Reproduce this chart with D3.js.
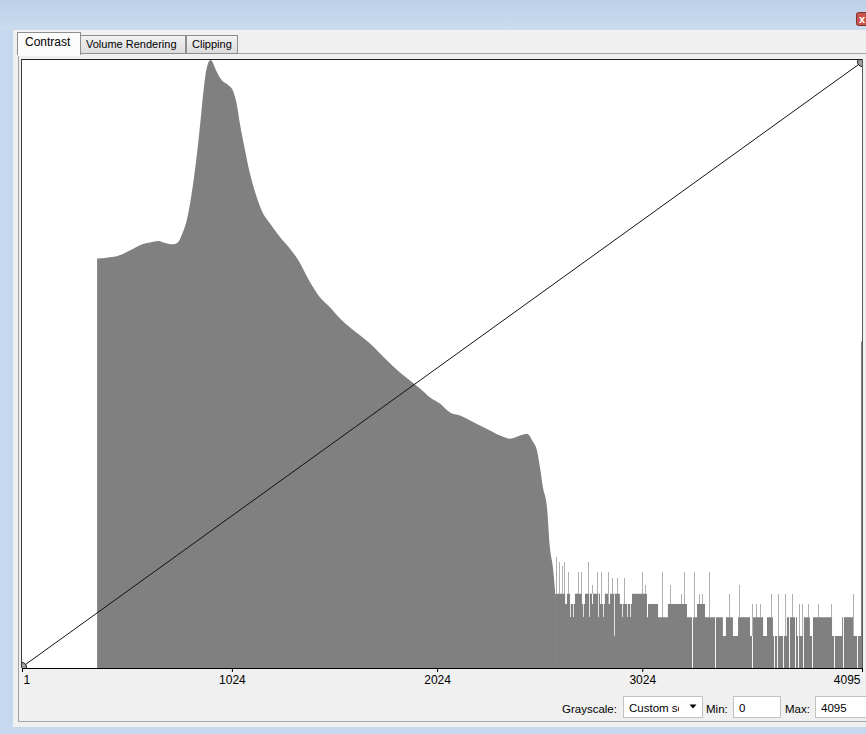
<!DOCTYPE html>
<html>
<head>
<meta charset="utf-8">
<script src="https://cdn.jsdelivr.net/npm/d3@7"></script>
<style>
  body { margin: 0; background: #c5d8ef; }
  svg { display: block; }
  text { font-family: "Liberation Sans", Arial, sans-serif; }
</style>
</head>
<body>
<div id="chart"></div>
<script>
// histogram body (gray value -> voxel count)
const bodyGray = [367, 414, 462, 495, 543, 584, 625, 665, 698, 738, 763, 779, 804, 828, 852, 868, 888, 901, 920,
  950, 974, 1006, 1031, 1047, 1063, 1088, 1112, 1137, 1169, 1210, 1258, 1307, 1348, 1405, 1453, 1502, 1551,
  1600, 1648, 1697, 1746, 1795, 1843, 1892, 1941, 1990, 2038, 2087, 2136, 2185, 2233, 2282, 2331, 2380, 2428,
  2462, 2491, 2511, 2526, 2540, 2560, 2574, 2589, 2599];
const bodyCount = [7060, 7210, 7420, 7860, 8760, 9560, 9990, 10330, 9910, 9630, 10120, 11690, 16190, 28880, 63890,
  122400, 291300, 434100, 520000, 403500, 337000, 302300, 261400, 203300, 131800, 73880, 44580, 29910, 20040,
  15080, 11270, 8760, 6800, 4220, 3050, 2460, 1930, 1590, 1340, 1120, 905, 728, 599, 503, 423, 348, 305, 251,
  235, 211, 189, 170, 152, 142, 152, 158, 133, 110, 75, 49, 31, 12.5, 7.7, 4.3];

// sparse tail: runs of equal count
const tailFrom = [2599, 2648, 2657, 2672, 2696, 2730, 2745, 2779, 2784, 2818, 2842, 2857, 2867, 2915, 2974, 3047,
  3052, 3101, 3149, 3242, 3291, 3330, 3417, 3432, 3466, 3491, 3549, 3564, 3613, 3632, 3661, 3729, 3778, 3809,
  3841, 3856, 3949, 3998, 4051, 4090];
const tailTo = [2648, 2657, 2672, 2696, 2730, 2745, 2779, 2784, 2818, 2842, 2857, 2867, 2915, 2974, 3047, 3052,
  3101, 3149, 3242, 3291, 3330, 3417, 3432, 3466, 3491, 3549, 3564, 3613, 3632, 3661, 3729, 3778, 3809, 3841,
  3856, 3949, 3998, 4051, 4090, 4095];
const tailCount = [4, 3, 4, 3, 4, 3, 4, 3, 4, 3, 4, 3, 4, 3, 4, 2, 3, 2, 3, 2, 3, 2, 1, 2, 1, 2, 1, 2, 1, 2, 1, 2,
  1, 2, 1, 2, 1, 2, 1, 1175];

// single bins that stick out of (or drop below) the runs
const binGray = [2604, 2620, 2631, 2644, 2660, 2712, 2725, 2761, 2777, 2802, 2823, 2859, 2875, 2903, 2937,
  3021, 3037, 3119, 3159, 3213, 3229, 3276, 3301, 3317, 3349, 3447, 3495, 3560, 3578, 3598, 3650, 3684, 3720,
  3752, 3790, 3801, 3833, 3882, 3944, 4053,
  2672, 2688, 2737, 2766, 2810, 2834, 2888, 2924, 2948, 2964,
  3268, 3378, 3557, 3665, 3679, 3711, 3741, 3768, 3784, 3809, 3853, 3960, 4001, 4069];
const binCount = [10, 9, 8, 9, 7, 7, 7, 9, 5, 7, 7, 7, 6, 6, 6,
  7, 5, 7, 5, 4, 7, 7, 4, 4, 7, 4, 5, 3, 3, 3, 4, 4, 4,
  4, 3, 3, 3, 3, 3, 4,
  2, 2, 2, 2, 2, 2, 1, 2, 2, 2,
  0, 0, 0, 0, 0, 0, 0, 0, 0, 0, 0, 0, 0, 0];

// transfer function (linear ramp)
const tfGray = [1, 4095];
const tfLevel = [0, 1];

const tickValues = [1, 1024, 2024, 3024, 4095];
const tabNames = ["Contrast", "Volume Rendering", "Clipping"];

const W = 866, H = 734;
const plotL = 22, plotR = 862, plotT = 60, plotB = 668;
const BAR = "#808080";

const svg = d3.select("#chart").append("svg").attr("width", W).attr("height", H);
const defs = svg.append("defs");

// window chrome
const g1 = defs.append("linearGradient").attr("id", "titlebar").attr("x2", 0).attr("y2", 1);
g1.append("stop").attr("offset", 0).attr("stop-color", "#bcd0e9");
g1.append("stop").attr("offset", 1).attr("stop-color", "#cbdcf0");
const g2 = defs.append("linearGradient").attr("id", "tabbg").attr("x2", 0).attr("y2", 1);
g2.append("stop").attr("offset", 0).attr("stop-color", "#f3f3f3");
g2.append("stop").attr("offset", 1).attr("stop-color", "#dcdcdc");

svg.append("rect").attr("width", W).attr("height", H).attr("fill", "#c5d8ef");
svg.append("rect").attr("width", W).attr("height", 31).attr("fill", "url(#titlebar)");
svg.append("rect").attr("x", 856.5).attr("y", 12.5).attr("width", 18).attr("height", 13).attr("rx", 2)
  .attr("fill", "#c9544b").attr("stroke", "#7d342f");
svg.append("text").attr("x", 859).attr("y", 23).attr("fill", "#fff").attr("font-size", 11)
  .attr("font-weight", "bold").text("x");

svg.append("rect").attr("x", 13).attr("y", 30).attr("width", W - 13).attr("height", 697).attr("fill", "#f0f0f0");
svg.append("rect").attr("x", 18.5).attr("y", 53.5).attr("width", W).attr("height", 668)
  .attr("fill", "#f0f0f0").attr("stroke", "#a3a3a3");

// tabs
const tabX = [17.5, 80.5, 186.5], tabW = [63, 105, 51];
tabNames.forEach((name, i) => {
  const active = i === 0;
  svg.append("rect").attr("x", tabX[i]).attr("y", active ? 32.5 : 35.5)
    .attr("width", tabW[i]).attr("height", active ? 22 : 18)
    .attr("fill", active ? "#fcfcfc" : "url(#tabbg)").attr("stroke", "#8e8e8e");
  svg.append("text").attr("x", tabX[i] + (active ? 7.5 : 5.5)).attr("y", active ? 46 : 48)
    .attr("font-size", active ? 12 : 11).attr("fill", "#000").text(name);
});
svg.append("rect").attr("x", 18).attr("y", 53).attr("width", 62).attr("height", 3).attr("fill", "#fcfcfc");

// plot area
svg.append("rect").attr("x", plotL).attr("y", plotT).attr("width", plotR - plotL).attr("height", plotB - plotT)
  .attr("fill", "#fff");
defs.append("clipPath").attr("id", "plotclip").append("rect")
  .attr("x", plotL).attr("y", plotT).attr("width", plotR - plotL + 1).attr("height", plotB - plotT);

const x = d3.scaleLinear().domain([1, 4095]).range([plotL, plotR]);
const y = d3.scaleSymlog().constant(1).domain([0, 520000]).range([plotB, plotT]);
const yTf = d3.scaleLinear().domain([0, 1]).range([plotB - 1, plotT + 2]);

const plot = svg.append("g").attr("clip-path", "url(#plotclip)");

const body = bodyGray.map((g, i) => ({ g, c: bodyCount[i] }));
plot.append("path").datum(body).attr("fill", BAR)
  .attr("d", d3.area().curve(d3.curveMonotoneX).x(d => x(d.g)).y0(y(0)).y1(d => y(d.c)));

const tail = tailFrom.map((g, i) => ({ g, c: tailCount[i] }));
tail.push({ g: tailTo[tailTo.length - 1], c: tailCount[tailCount.length - 1] });
plot.append("path").datum(tail).attr("fill", BAR)
  .attr("d", d3.area().curve(d3.curveStepAfter).x(d => x(d.g)).y0(y(0)).y1(d => y(d.c)));

function runAt(g) {
  const i = tailFrom.findIndex((f, k) => g >= f && g < tailTo[k]);
  return i < 0 ? 0 : tailCount[i];
}
plot.selectAll(".bin").data(binGray.map((g, i) => ({ g, c: binCount[i], r: runAt(g) })))
  .join("rect").attr("class", "bin")
  .attr("shape-rendering", "crispEdges")
  .attr("x", d => Math.round(x(d.g)))
  .attr("width", 1)
  .attr("y", d => y(Math.max(d.c, d.r)))
  .attr("height", d => Math.abs(y(d.c) - y(d.r)))
  .attr("fill", d => d.c > d.r ? "#b0b0b0" : (d.c === 0 ? "#f4f4f4" : "#e2e2e2"));

// transfer function line + handles
const tf = tfGray.map((g, i) => ({ g, v: tfLevel[i] }));
plot.append("path").datum(tf).attr("fill", "none").attr("stroke", "#111").attr("stroke-width", 1)
  .attr("d", d3.line().x(d => x(d.g)).y(d => yTf(d.v)));
plot.selectAll(".handle").data(tf).join("circle").attr("class", "handle")
  .attr("cx", d => x(d.g)).attr("cy", d => yTf(d.v)).attr("r", 4.5)
  .attr("fill", "#9c9c9c").attr("stroke", "#1a1a1a");

// frame
svg.append("line").attr("x1", plotL - 1).attr("x2", plotR + 1).attr("y1", plotT - 0.5).attr("y2", plotT - 0.5)
  .attr("stroke", "#1c1c1c");
svg.append("line").attr("x1", plotL - 0.5).attr("x2", plotL - 0.5).attr("y1", plotT - 1).attr("y2", plotB)
  .attr("stroke", "#3a3a3a");
svg.append("line").attr("x1", plotR + 0.5).attr("x2", plotR + 0.5).attr("y1", plotT - 1).attr("y2", plotB)
  .attr("stroke", "#5a5a5a");

// axis
const axis = svg.append("g").attr("transform", `translate(0,${plotB})`)
  .call(d3.axisBottom(x).tickValues(tickValues).tickSize(4).tickSizeOuter(0).tickFormat(d3.format("d")));
axis.select(".domain").attr("stroke", "#000");
axis.selectAll(".tick line").attr("stroke", "#000");
axis.selectAll(".tick text").attr("font-size", 12).attr("font-family", "Liberation Sans, Arial, sans-serif")
  .attr("fill", "#000");
axis.selectAll(".tick text").filter(d => d === tickValues[0]).attr("text-anchor", "start").attr("dx", 1);
axis.selectAll(".tick text").filter(d => d === tickValues[tickValues.length - 1]).attr("text-anchor", "end").attr("dx", -2);

// controls
const ctl = svg.append("g").attr("font-size", 11.5).attr("fill", "#000");
ctl.append("text").attr("x", 562).attr("y", 713).text("Grayscale:");
ctl.append("rect").attr("x", 623.5).attr("y", 696.5).attr("width", 79).attr("height", 21)
  .attr("fill", "#fff").attr("stroke", "#c2c2c2");
defs.append("clipPath").attr("id", "ddclip").append("rect").attr("x", 624).attr("y", 697).attr("width", 55).attr("height", 20);
ctl.append("text").attr("x", 629).attr("y", 712).attr("clip-path", "url(#ddclip)").text("Custom scale");
ctl.append("path").attr("d", "M689.5,704.5h7l-3.5,4z").attr("fill", "#000");
ctl.append("text").attr("x", 706).attr("y", 713).text("Min:");
ctl.append("rect").attr("x", 733.5).attr("y", 696.5).attr("width", 47).attr("height", 21)
  .attr("fill", "#fff").attr("stroke", "#c2c2c2");
ctl.append("text").attr("x", 739).attr("y", 712).text("0");
ctl.append("text").attr("x", 785).attr("y", 713).text("Max:");
ctl.append("rect").attr("x", 815.5).attr("y", 696.5).attr("width", 60).attr("height", 21)
  .attr("fill", "#fff").attr("stroke", "#c2c2c2");
ctl.append("text").attr("x", 821).attr("y", 712).text("4095");
</script>
</body>
</html>
